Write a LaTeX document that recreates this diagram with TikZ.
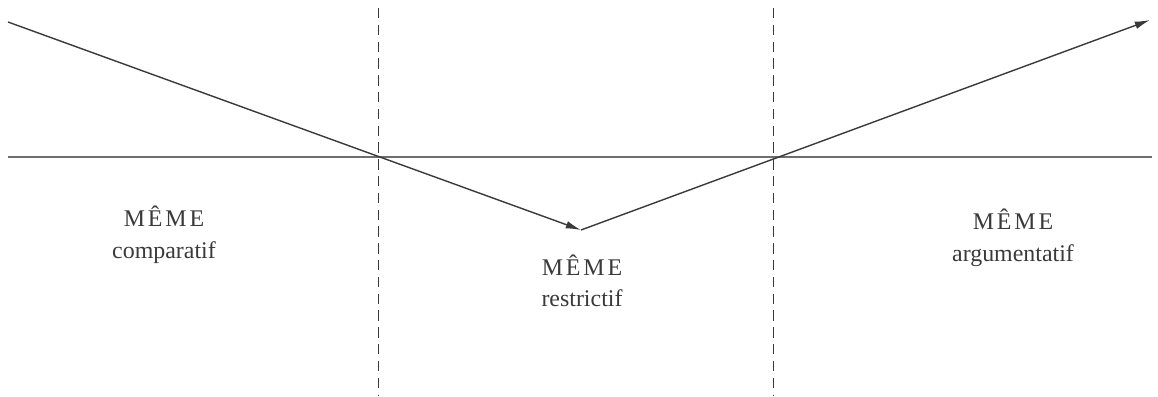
\documentclass[tikz,border=0pt]{standalone}
\usepackage{fontspec}
\setmainfont{Liberation Serif}
\usetikzlibrary{arrows.meta, positioning}
\definecolor{cink}{HTML}{3A3A3A}
\definecolor{cgrey}{HTML}{6E6E6E}
\tikzset{
  every picture/.style={line width=0.9pt},
  axis/.style={draw=cgrey, line width=0.8pt},
  divider/.style={draw=cink, line width=0.7pt, dash pattern=on 2.6mm off 1.6mm},
  arrow/.style={-{Latex[length=3.8mm, width=1.9mm]}, draw=cink, line width=1pt},
  label/.style={font=\fontsize{17}{22.5}\selectfont, text=cink, align=center},
}
\newcommand{\meme}{{\addfontfeature{LetterSpace=12}MÊME}}

\begin{document}
\begin{tikzpicture}[x=0.025cm, y=-0.025cm]
  \useasboundingbox (0,0) rectangle (1158,396);
  % axis and the two dividers
  \coordinate (h0) at (8,157);
  \coordinate (h1) at (1152,157);
  \coordinate (d1t) at (378,8);
  \coordinate (d1b) at (378,396);
  \coordinate (d2t) at (773,8);
  \coordinate (d2b) at (773,396);
  \draw[axis] (h0) -- (h1);
  \draw[divider] (d1t) -- (d1b);
  \draw[divider] (d2t) -- (d2b);
  % the V path
  \coordinate (start) at (8,22);
  \coordinate (low) at (581,230);
  \coordinate (tip) at (1150,20);
  \draw[arrow] (start) -- (low);
  \draw[arrow] (low) -- (tip);
  % labels
  \node[label] (comp) at (164,235) {\meme\\comparatif};
  \node[label] (restr) at (582,281) {\meme\\restrictif};
  \node[label] (argu) at (1013,238) {\meme\\argumentatif};
\end{tikzpicture}
\end{document}
